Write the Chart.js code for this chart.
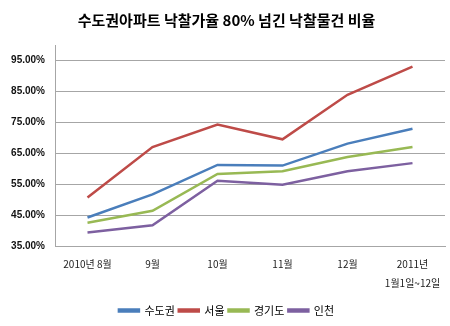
<!DOCTYPE html>
<html><head><meta charset="utf-8">
<script src="https://cdn.jsdelivr.net/npm/chart.js@4/dist/chart.umd.min.js"></script>
<style>html,body{margin:0;padding:0;background:#fff}#wrap{width:450px;height:326px;position:relative}</style>
</head><body><div id="wrap"><canvas id="c" width="450" height="326"></canvas></div>
<script>
const titleText = '수도권아파트 낙찰가율 80% 넘긴 낙찰물건 비율';
const categories = ['2010년 8월', '9월', '10월', '11월', '12월', ['2011년', '1월1일~12일']];
const seriesNames = ['수도권', '서울', '경기도', '인천'];
const capital = [44.2, 51.7, 61.2, 61.0, 68.1, 72.9];
const seoul = [50.7, 67.0, 74.3, 69.5, 83.9, 93.0];
const gyeonggi = [42.5, 46.4, 58.3, 59.2, 63.8, 67.0];
const incheon = [39.4, 41.7, 56.1, 54.8, 59.2, 61.8];
const yTicks = [35, 45, 55, 65, 75, 85, 95];
const colors = ['#4A7EBB', '#BE4B48', '#98B954', '#7D60A0'];

const seriesData = [capital, seoul, gyeonggi, incheon];
const CJK = '"Noto Sans CJK KR", "Noto Sans", sans-serif';
new Chart(document.getElementById('c'), {
  type: 'line',
  data: {
    labels: categories,
    datasets: seriesData.map((d, i) => ({
      label: seriesNames[i], data: d, borderColor: colors[i], backgroundColor: colors[i],
      borderWidth: 2.5, pointRadius: 0, tension: 0, fill: false
    }))
  },
  options: {
    responsive: false, animation: false, devicePixelRatio: 1,
    layout: { padding: { left: 8, right: 5, top: 0, bottom: 0 } },
    plugins: {
      title: { display: true, text: titleText, color: '#000', font: { family: CJK, size: 15, weight: 'bold' }, padding: { top: 11, bottom: 16 } },
      legend: { position: 'bottom', labels: { boxWidth: 20, boxHeight: 2, color: '#000', font: { family: CJK, size: 11 }, padding: 4 } },
      tooltip: { enabled: false }
    },
    scales: {
      x: {
        offset: true,
        grid: { display: false, drawTicks: false },
        border: { display: true, color: '#A6A6A6', width: 1 },
        ticks: { color: '#222', font: { family: CJK, size: 10, lineHeight: 1.95 }, padding: 8, maxRotation: 0, autoSkip: false }
      },
      y: {
        min: 35, max: 100,
        afterBuildTicks: (s) => { s.ticks = yTicks.map(v => ({ value: v })); },
        afterFit: (s) => { s.width = 47; },
        grid: { color: '#A6A6A6', lineWidth: 1, drawTicks: false },
        border: { display: true, color: '#A6A6A6', width: 1 },
        ticks: { color: '#111', font: { family: '"Liberation Sans", sans-serif', size: 10, weight: 'bold' }, padding: 10,
          callback: (v) => v.toFixed(2) + '%' }
      }
    }
  }
});
</script></body></html>
